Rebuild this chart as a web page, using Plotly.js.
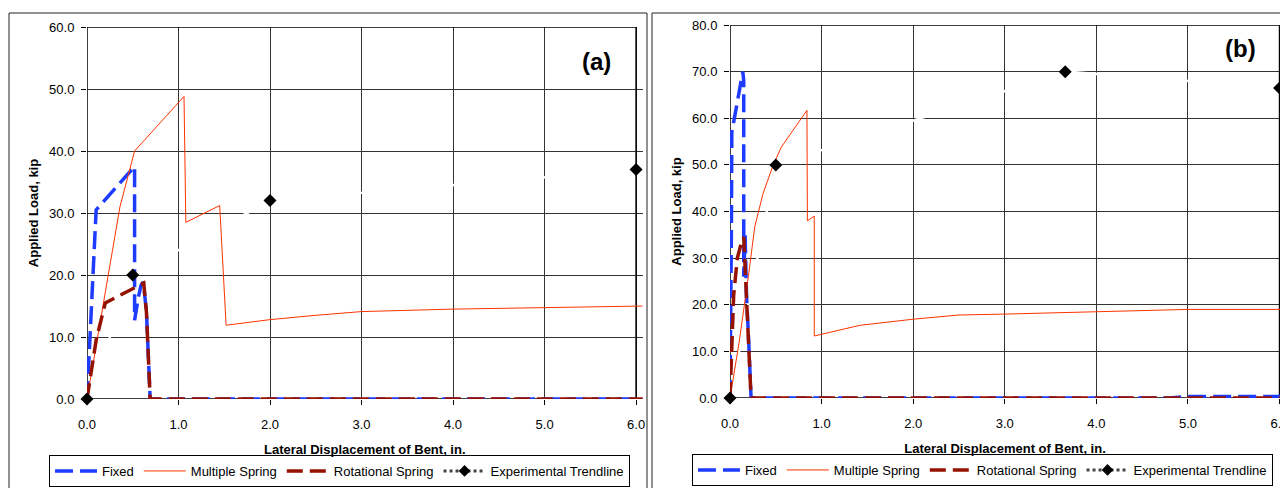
<!DOCTYPE html>
<html>
<head>
<meta charset="utf-8">
<script src="https://cdn.plot.ly/plotly-3.0.1.min.js"></script>
<style>html,body{margin:0;padding:0;background:#fff;}#chart{width:1280px;height:488px;}</style>
</head>
<body>
<div id="chart"></div>
<script>
// ---------- data: panel (a) ----------
const fixedA_x = [0, 0.04, 0.08, 0.1, 0.52, 0.52, 0.56, 0.59, 0.615, 0.65, 0.69, 6.1];
const fixedA_y = [0, 12, 25, 30.5, 37.5, 12.7, 16.3, 18.3, 18.9, 14, 0, 0];
const multiA_x = [0, 0.36, 0.52, 1.06, 1.08, 1.45, 1.52, 2.0, 2.5, 3.0, 4.0, 5.0, 6.1];
const multiA_y = [0, 31.0, 40.0, 48.8, 28.5, 31.2, 11.9, 12.8, 13.5, 14.1, 14.5, 14.7, 15.0];
const rotA_x = [0, 0.03, 0.1, 0.2, 0.38, 0.6, 0.62, 0.65, 0.69, 6.1];
const rotA_y = [0, 3, 9.5, 15.5, 16.9, 18.7, 18.7, 13.9, 0, 0];
const expA_x = [0, 0.5, 2.0, 6.0];
const expA_y = [0, 20, 32, 37];

// ---------- data: panel (b) ----------
const fixedB_x = [0, 0.01, 0.015, 0.02, 0.14, 0.15, 0.15, 0.165, 0.18, 0.2, 0.23, 4.8, 5.0, 6.1];
const fixedB_y = [0, 15, 35, 57, 70, 68, 26, 35, 22, 14, 0, 0, 0.3, 0.3];
const multiB_x = [0, 0.1, 0.2, 0.27, 0.36, 0.47, 0.56, 0.84, 0.845, 0.92, 0.92, 1.42, 2.0, 2.5, 3.0, 4.0, 5.0, 6.1];
const multiB_y = [0, 12, 26, 36.7, 43.8, 49.9, 53.8, 61.7, 38, 39, 13.3, 15.6, 16.9, 17.8, 18.0, 18.5, 19.0, 19.0];
const rotB_x = [0, 0.02, 0.04, 0.08, 0.12, 0.15, 0.16, 0.18, 0.2, 0.22, 0.23, 6.1];
const rotB_y = [0, 10, 22, 30, 33, 34.5, 30, 25, 15, 5, 0, 0];
const expB_x = [0, 0.5, 3.66, 6.0];
const expB_y = [0, 50, 70, 66.5];

const seriesNames = ['Fixed', 'Multiple Spring', 'Rotational Spring', 'Experimental Trendline'];
const xTitle = 'Lateral Displacement of Bent, in.';
const yTitle = 'Applied Load, kip';
const panelLabels = ['(a)', '(b)'];

// ---------- styles ----------
const FONT = 'Liberation Sans, Arial, sans-serif';
const BLUE = '#1E3CFF';
const ORANGE = '#FF3300';
const DARKRED = '#961200';
const W = 1280, H = 488;

function panelTraces(xa, ya, leg, fx, fy, mx, my, rx, ry, ex, ey) {
  return [
    {x: ex, y: ey, xaxis: xa, yaxis: ya, mode: 'lines', line: {color: '#ffffff', width: 2.5},
     showlegend: false, hoverinfo: 'skip'},
    {x: fx, y: fy, xaxis: xa, yaxis: ya, mode: 'lines', name: seriesNames[0], legend: leg,
     line: {color: BLUE, width: 3.5, dash: '18px,7px'}},
    {x: mx, y: my, xaxis: xa, yaxis: ya, mode: 'lines', name: seriesNames[1], legend: leg,
     line: {color: ORANGE, width: 1}},
    {x: rx, y: ry, xaxis: xa, yaxis: ya, mode: 'lines', name: seriesNames[2], legend: leg,
     line: {color: DARKRED, width: 3.5, dash: '16px,7px'}},
    {x: ex, y: ey, xaxis: xa, yaxis: ya, mode: 'markers', showlegend: false, cliponaxis: false,
     marker: {symbol: 'diamond', color: '#000', size: 10}},
    {x: [null], y: [null], xaxis: xa, yaxis: ya, mode: 'lines+markers', name: seriesNames[3], legend: leg,
     line: {color: '#444', width: 3, dash: 'dot'}, marker: {symbol: 'diamond', color: '#000', size: 9}}
  ];
}

const data = [].concat(
  panelTraces('x', 'y', 'legend', fixedA_x, fixedA_y, multiA_x, multiA_y, rotA_x, rotA_y, expA_x, expA_y),
  panelTraces('x2', 'y2', 'legend2', fixedB_x, fixedB_y, multiB_x, multiB_y, rotB_x, rotB_y, expB_x, expB_y)
);

function xAxis(domain, range, anchor) {
  return {
    domain: domain, range: range, anchor: anchor, dtick: 1, tick0: 0, tickformat: '.1f',
    showgrid: true, gridcolor: '#333', gridwidth: 1, zeroline: false, showline: false,
    ticks: 'outside', ticklen: 5, tickcolor: '#000', ticklabelstandoff: 8,
    ticklabeloverflow: 'allow',
    tickfont: {family: FONT, size: 13, color: '#000'},
    title: {text: xTitle, font: {family: FONT, size: 13, color: '#000', weight: 'bold'}, standoff: 14},
    automargin: false, fixedrange: true
  };
}
function yAxis(domain, range, anchor) {
  return {
    domain: domain, range: range, anchor: anchor, dtick: 10, tick0: 0, tickformat: '.1f',
    showgrid: true, gridcolor: '#333', gridwidth: 1, zeroline: false, showline: false,
    ticks: 'outside', ticklen: 5, tickcolor: '#000', ticklabelstandoff: 4,
    ticklabeloverflow: 'allow',
    tickfont: {family: FONT, size: 13, color: '#000'},
    title: {text: yTitle, font: {family: FONT, size: 13, color: '#000', weight: 'bold'}, standoff: 7},
    automargin: false, fixedrange: true
  };
}

const legendBase = {
  orientation: 'h', xanchor: 'left', yanchor: 'bottom', bgcolor: '#fff',
  bordercolor: '#000', borderwidth: 1, font: {family: FONT, size: 13, color: '#000'},
  traceorder: 'normal', itemwidth: 42
};

const layout = {
  width: W, height: H, margin: {l: 0, r: 0, t: 0, b: 0, autoexpand: false},
  paper_bgcolor: '#fff', plot_bgcolor: '#fff', showlegend: true,
  font: {family: FONT, size: 13, color: '#000'},
  xaxis: xAxis([87 / W, 642.5 / W], [0, 6.07], 'y'),
  yaxis: yAxis([1 - 399 / H, 1 - 27 / H], [0, 60], 'x'),
  xaxis2: xAxis([730 / W, 1], [0, 6.005], 'y2'),
  yaxis2: yAxis([1 - 398 / H, 1 - 25 / H], [0, 80], 'x2'),
  legend: Object.assign({}, legendBase, {x: 49 / W, y: 1 - 487 / H}),
  legend2: Object.assign({}, legendBase, {x: 692 / W, y: 1 - 486 / H}),
  shapes: [
    // outer chart frames
    {type: 'rect', xref: 'paper', yref: 'paper', x0: 9 / W, x1: 647 / W, y0: -0.2, y1: 1 - 13 / H,
     line: {color: '#222', width: 1}, layer: 'below'},
    {type: 'rect', xref: 'paper', yref: 'paper', x0: 652 / W, x1: 1.2, y0: -0.2, y1: 1 - 13 / H,
     line: {color: '#222', width: 1}, layer: 'below'},
    // plot area borders
    {type: 'rect', xref: 'x', yref: 'y', x0: 0, x1: 6, y0: 0, y1: 60,
     line: {color: '#000', width: 1.5}, layer: 'between'},
    {type: 'rect', xref: 'x2', yref: 'y2', x0: 0, x1: 6, y0: 0, y1: 80,
     line: {color: '#000', width: 1.5}, layer: 'between'}
  ],
  annotations: [
    {text: panelLabels[0], xref: 'paper', yref: 'paper', x: 596 / W, y: 1 - 61 / H,
     xanchor: 'center', yanchor: 'middle', showarrow: false,
     font: {family: FONT, size: 24, color: '#000', weight: 'bold'}},
    {text: panelLabels[1], xref: 'paper', yref: 'paper', x: 1240 / W, y: 1 - 49 / H,
     xanchor: 'center', yanchor: 'middle', showarrow: false,
     font: {family: FONT, size: 24, color: '#000', weight: 'bold'}}
  ]
};

Plotly.newPlot('chart', data, layout, {displayModeBar: false, staticPlot: true});
</script>
</body>
</html>
